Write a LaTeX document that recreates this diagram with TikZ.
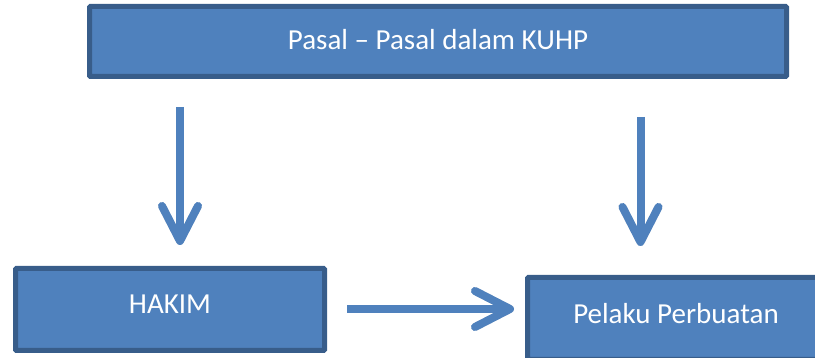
\documentclass[tikz,border=0pt]{standalone}
\usepackage{fontspec}
\setmainfont{Carlito}
\usetikzlibrary{arrows.meta}
\definecolor{boxfill}{HTML}{4F81BD}
\definecolor{boxline}{HTML}{385D8A}
\tikzset{
  box/.style={draw=boxline, fill=boxfill, line width=5pt, rounded corners=1pt, text=white, inner sep=0pt,
    font=\fontsize{29}{34}\selectfont, anchor=center},
  bigarrow/.style={draw=boxfill, line width=8pt,
    -{Straight Barb[length=35pt, width=36pt, round]}},
  arrowshadow/.style={draw=black, opacity=0.08, line width=8pt,
    -{Straight Barb[length=35pt, width=36pt, round]}}
}
\begin{document}
\begin{tikzpicture}[x=1pt, y=-1pt]
\useasboundingbox (0,0) rectangle (815,358);
% boxes
\node[box, minimum width=697pt, minimum height=70pt] (kuhp) at (438,41.5)
  {\raisebox{4pt}{Pasal – Pasal dalam KUHP}};
\node[box, minimum width=309pt, minimum height=82pt] (hakim) at (170,309.5)
  {\raisebox{11pt}{HAKIM}};
\node[box, minimum width=297pt, minimum height=82pt] (pelaku) at (676,318.5)
  {\raisebox{10pt}{Pelaku Perbuatan}};
% arrow end points
\coordinate (a1s) at (180,107);
\coordinate (a1e) at (180,245);
\coordinate (a2s) at (640.5,117);
\coordinate (a2e) at (640.5,246);
\coordinate (a3s) at (347,309);
\coordinate (a3e) at (514,309);
% shadows
\begin{scope}[shift={(1,4)}]
\draw[arrowshadow] (a1s) -- (a1e);
\draw[arrowshadow] (a2s) -- (a2e);
\draw[arrowshadow] (a3s) -- (a3e);
\end{scope}
% arrows
\draw[bigarrow] (a1s) -- (a1e);
\draw[bigarrow] (a2s) -- (a2e);
\draw[bigarrow] (a3s) -- (a3e);
\end{tikzpicture}
\end{document}
